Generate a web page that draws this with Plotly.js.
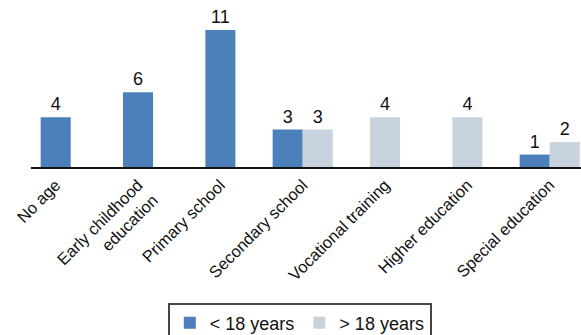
<!DOCTYPE html>
<html>
<head>
<meta charset="utf-8">
<script src="https://cdn.plot.ly/plotly-3.0.1.min.js"></script>
<style>html,body{margin:0;padding:0;background:#fff;}#chart{width:581px;height:335px;}</style>
</head>
<body>
<div id="chart"></div>
<script>
var categories = ["No age", "Early childhood<br>education", "Primary school", "Secondary school", "Vocational training", "Higher education", "Special education"];
var under18 = [4, 6, 11, 3, null, null, 1];
var over18 = [null, null, null, 3, 4, 4, 2];
var seriesNames = ["< 18 years", "> 18 years"];
var colors = ["#4b80bb", "#c8d3dd"];

var W = 0.365;
function offsets(own, other, first) {
  return own.map(function (v, i) {
    var both = own[i] != null && other[i] != null;
    if (both) return first ? -W : 0;
    return -W / 2;
  });
}
function widths(arr) { return arr.map(function () { return W; }); }

var traces = [
  {type: "bar", name: seriesNames[0], x: categories, y: under18,
   marker: {color: colors[0]}, width: widths(under18), offset: offsets(under18, over18, true),
   text: under18.map(function (v) { return v == null ? "" : String(v); }),
   textposition: "outside", cliponaxis: false,
   textfont: {size: 18, color: "#111"}, hoverinfo: "none"},
  {type: "bar", name: seriesNames[1], x: categories, y: over18,
   marker: {color: colors[1]}, width: widths(over18), offset: offsets(over18, under18, false),
   text: over18.map(function (v) { return v == null ? "" : String(v); }),
   textposition: "outside", cliponaxis: false,
   textfont: {size: 18, color: "#111"}, hoverinfo: "none"}
];

var layout = {
  width: 581, height: 335,
  margin: {l: 31, r: 0, t: 0, b: 168},
  paper_bgcolor: "#fff", plot_bgcolor: "#fff",
  font: {family: "Liberation Sans, Arial, sans-serif", color: "#111"},
  barmode: "overlay",
  showlegend: true,
  xaxis: {type: "category", range: [-0.3, 6.38], tickangle: -45,
          showline: true, linecolor: "#111", linewidth: 2, ticks: "",
          showgrid: false, zeroline: false, tickfont: {size: 16.5, color: "#111"}},
  yaxis: {range: [0, 13.4], visible: false, showgrid: false, zeroline: false},
  legend: {orientation: "h", xref: "container", yref: "container",
           x: 0.516, xanchor: "center", y: 0.097, yanchor: "top",
           bordercolor: "#444", borderwidth: 2, font: {size: 18, color: "#111"},
           bgcolor: "#fff", itemwidth: 30, tracegroupgap: 0}
};
Plotly.newPlot("chart", traces, layout, {staticPlot: true});
</script>
</body>
</html>
